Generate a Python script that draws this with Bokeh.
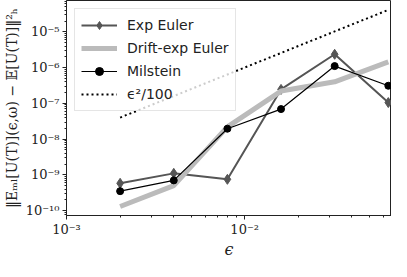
from bokeh.plotting import figure
from bokeh.models import Range1d, FixedTicker, CustomJSTickFormatter, Legend
from bokeh.embed import file_html
from bokeh.resources import INLINE

# ---- data ----
eps = [0.002, 0.004, 0.008, 0.016, 0.032, 0.064]
exp_euler = [5.8e-10, 1.1e-9, 7.5e-10, 2.45e-7, 2.35e-6, 1.05e-7]
drift_exp_euler = [1.3e-10, 5.0e-10, 2.2e-8, 2.2e-7, 4.0e-7, 1.45e-6]
milstein = [3.5e-10, 7.0e-10, 1.95e-8, 6.9e-8, 1.1e-6, 3.1e-7]
eps_sq_100 = [4.0e-8, 1.6e-7, 6.4e-7, 2.56e-6, 1.024e-5, 4.096e-5]

x_major = [1e-3, 1e-2]
y_major = [1e-10, 1e-9, 1e-8, 1e-7, 1e-6, 1e-5]

x_minor = [m * 10.0 ** d for d in (-3, -2) for m in range(2, 10)]
y_minor = [m * 10.0 ** d for d in range(-11, -4) for m in range(2, 10)]

p = figure(width=391, height=261, x_axis_type="log", y_axis_type="log",
           x_range=Range1d(1e-3, 0.0667), y_range=Range1d(7.3e-11, 7.5e-5),
           output_backend="svg", toolbar_location=None,
           min_border_left=60, min_border_right=0, min_border_top=0, min_border_bottom=0)

p.xgrid.visible = False
p.ygrid.visible = False
p.outline_line_color = "#222222"
p.outline_line_width = 1
p.background_fill_color = "white"
p.border_fill_color = "white"

fmt_code = """
const sup = {'-':'\u207b','0':'\u2070','1':'\u00b9','2':'\u00b2','3':'\u00b3','4':'\u2074','5':'\u2075','6':'\u2076','7':'\u2077','8':'\u2078','9':'\u2079'};
const e = Math.round(Math.log10(tick));
return '10' + String(e).split('').map(c => sup[c]).join('');
"""

for ax, major, minor in ((p.xaxis[0], x_major, x_minor), (p.yaxis[0], y_major, y_minor)):
    ax.ticker = FixedTicker(ticks=major, minor_ticks=minor)
    ax.formatter = CustomJSTickFormatter(code=fmt_code)
    ax.major_tick_in = 0
    ax.major_tick_out = 4
    ax.minor_tick_in = 0
    ax.minor_tick_out = 2
    ax.axis_line_color = "#222222"
    ax.major_tick_line_color = "#222222"
    ax.minor_tick_line_color = "#222222"
    ax.major_label_text_font = "DejaVu Serif"
    ax.major_label_text_font_size = "13px"
    ax.major_label_text_color = "#222222"
    ax.major_label_standoff = 3
    ax.axis_label_text_font = "DejaVu Serif"
    ax.axis_label_text_font_style = "normal"
    ax.axis_label_text_color = "#222222"

p.xaxis.major_label_standoff = 2
p.xaxis.axis_label = "\u03f5"
p.xaxis.axis_label_text_font_size = "16px"
p.xaxis.axis_label_text_font_style = "italic"
p.xaxis.axis_label_standoff = 0
p.yaxis.axis_label = "\u2016E\u2098\u2097[U(T)](\u03f5,\u03c9) \u2212 \U0001d53c[U(T)]\u2016\u00b2\u2095"
p.yaxis.axis_label_text_font_size = "14px"
p.yaxis.axis_label_standoff = 3

l1 = p.line(eps, exp_euler, line_color="#555555", line_width=2)
s1 = p.scatter(eps, exp_euler, marker="diamond", size=10, fill_color="#555555", line_color="#555555")
l2 = p.line(eps, drift_exp_euler, line_color="#bbbbbb", line_width=5)
l3 = p.line(eps, milstein, line_color="black", line_width=1.2)
s3 = p.scatter(eps, milstein, marker="circle", size=7, fill_color="black", line_color="black")
l4 = p.line(eps, eps_sq_100, line_color="black", line_width=2, line_dash="2 3")

legend = Legend(items=[("Exp Euler", [l1, s1]), ("Drift-exp Euler", [l2]),
                       ("Milstein", [l3, s3]), ("\u03f5\u00b2/100", [l4])],
                location="top_left")
legend.label_text_font = "DejaVu Sans"
legend.label_text_font_size = "14px"
legend.label_text_color = "#222222"
legend.glyph_width = 36
legend.glyph_height = 20
legend.label_height = 20
legend.spacing = 3
legend.padding = 6
legend.margin = 8
legend.label_standoff = 10
legend.border_line_color = "#cccccc"
legend.background_fill_alpha = 0.8
p.add_layout(legend)

open("out.html", "w").write(file_html(p, INLINE))
